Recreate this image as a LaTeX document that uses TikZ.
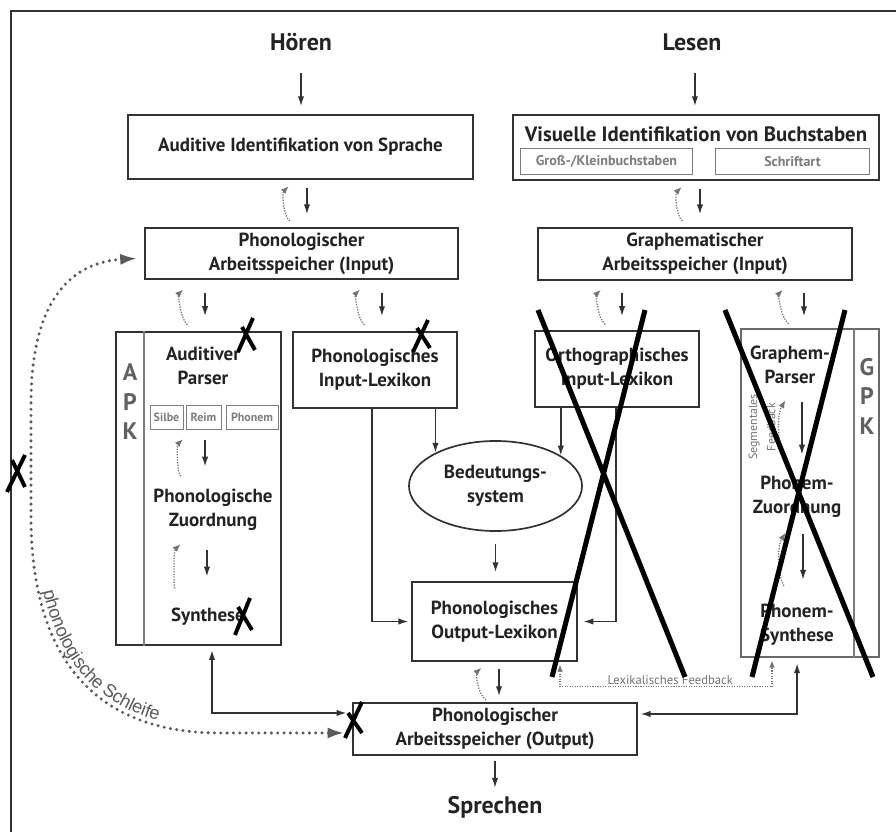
\documentclass[tikz,border=0pt]{standalone}
\usepackage{fontspec}
\setmainfont{PT Sans}
\newfontfamily\loopfont{Liberation Sans}
\usepackage{tikz}
\usetikzlibrary{shapes,arrows,arrows.meta,positioning,calc,decorations.text}

\definecolor{linegray}{RGB}{50,50,50}
\definecolor{textgray}{RGB}{35,35,35}
\definecolor{fbgray}{RGB}{115,115,115}
\definecolor{subgray}{RGB}{125,125,125}
\definecolor{loopgray}{RGB}{90,90,90}
\definecolor{gpkgray}{RGB}{105,105,105}
\tikzstyle{box} = [draw=linegray, line width=1.2pt, inner sep=0pt, text=textgray, align=center, font=\bfseries\fontsize{13.5}{17}\selectfont]
\tikzstyle{subbox} = [draw=subgray, line width=0.7pt, inner sep=0pt, text=subgray, font=\bfseries\fontsize{8.5}{10}\selectfont]
\tikzstyle{plain} = [inner sep=0pt, text=textgray, align=center, font=\bfseries\fontsize{13.5}{17}\selectfont]
\tikzstyle{heading} = [inner sep=0pt, text=textgray, font=\bfseries\fontsize{17}{20}\selectfont]
\tikzstyle{side} = [inner sep=0pt, text=black!62, align=center, font=\bfseries\fontsize{17}{21}\selectfont]
\tikzstyle{note} = [inner sep=1pt, text=fbgray, align=center, font=\fontsize{9}{12}\selectfont]
\tikzstyle{arrow} = [-{Latex[length=7pt,width=4.5pt]}, line width=1pt, linegray]
\tikzstyle{twoway} = [{Latex[length=7pt,width=4.5pt]}-{Latex[length=7pt,width=4.5pt]}, line width=1pt, linegray]
\tikzstyle{fb} = [-{Latex[length=5.5pt,width=4.5pt]}, fbgray, densely dotted, line width=0.9pt]
\tikzstyle{fbtwo} = [{Latex[length=5pt,width=4pt]}-{Latex[length=5pt,width=4pt]}, fbgray, densely dotted, line width=0.8pt]
\tikzstyle{loopline} = [{Latex[length=12pt,width=8pt]}-{Latex[length=12pt,width=8pt]}, loopgray, line width=2.4pt, line cap=round, dash pattern=on 0pt off 4.5pt]
\tikzstyle{divider} = [subgray, line width=0.8pt]
\tikzstyle{bigx} = [line width=3.6pt]
\tikzstyle{smallx} = [line width=2.8pt]

\begin{document}
\begin{tikzpicture}[x=0.025cm, y=-0.025cm]

\useasboundingbox (0,0) rectangle (896,832);
\fill[white] (0,0) rectangle (896,832);
\draw[line width=1.4pt, linegray] (11,840) -- (11,11) -- (900,11);

% Headings
\node[heading] (hoeren) at (301,42) {Hören};
\node[heading] (lesen) at (692,42) {Lesen};
\node[heading] (sprechen) at (495,807) {Sprechen};

% Boxes
\node[box, minimum width=8.625cm, minimum height=1.6cm] (ais) at (300.5,147) {Auditive Identifikation von Sprache};
\node[box, minimum width=9.15cm, minimum height=1.625cm] (vib) at (696,147.5) {};
\node[plain, font=\bfseries\fontsize{14.8}{17}\selectfont] (vibtitle) at (696,134) {Visuelle Identifikation von Buchstaben};
\node[subbox, font=\bfseries\fontsize{10}{12}\selectfont, minimum width=4.275cm, minimum height=0.625cm] (gross) at (606.5,161.5) {Groß-/Kleinbuchstaben};
\node[subbox, font=\bfseries\fontsize{10}{12}\selectfont, minimum width=3.825cm, minimum height=0.625cm] (schrift) at (792.5,161.5) {Schriftart};
\node[box, minimum width=7.825cm, minimum height=1.275cm] (pas) at (301.5,253.5) {Phonologischer\\Arbeitsspeicher (Input)};
\node[box, minimum width=7.85cm, minimum height=1.3cm] (gas) at (695,254) {Graphematischer\\Arbeitsspeicher (Input)};
\node[box, minimum width=4.125cm, minimum height=7.825cm] (apk) at (198.5,488.5) {};
\node[box, minimum width=4.1cm, minimum height=1.9cm] (pil) at (375,370) {Phonologisches\\Input-Lexikon};
\node[box, minimum width=4.1cm, minimum height=1.9cm] (oil) at (617,369) {Orthographisches\\Input-Lexikon};
\node[box, ellipse, minimum width=4.325cm, minimum height=2.25cm] (bed) at (495.5,486) {Bedeutungs-\\system};
\node[box, minimum width=4.125cm, minimum height=1.975cm] (pol) at (494.5,621.5) {Phonologisches\\Output-Lexikon};
\node[box, minimum width=7.1cm, minimum height=1.3cm] (pao) at (495,729) {Phonologischer\\Arbeitsspeicher (Output)};
\node[box, draw=gpkgray, line width=1pt, minimum width=3.45cm, minimum height=8.2cm] (gpk) at (810,493) {};

% APK
\draw[divider] ([xshift=-38.8pt]apk.north) -- ([xshift=-38.8pt]apk.south);
\node[side] (apkletters) at (130,402) {A\\P\\K};
\node[plain] (apar) at (203,366) {Auditiver\\Parser};
\node[subbox, minimum width=0.825cm, minimum height=0.6cm] (silbe) at (166.5,417) {Silbe};
\node[subbox, minimum width=0.875cm, minimum height=0.6cm] (reim) at (203.5,417) {Reim};
\node[subbox, minimum width=1.3cm, minimum height=0.6cm] (phonem) at (252,417) {Phonem};
\node[plain] (pzuo) at (213,509.5) {Phonologische\\Zuordnung};
\node[plain] (synth) at (208,616.5) {Synthese};

% GPK
\draw[divider] ([xshift=31.3pt]gpk.north) -- ([xshift=31.3pt]gpk.south);
\node[side] (gpkletters) at (867,396) {G\\P\\K};
\node[plain] (gpar) at (790,365) {Graphem-\\Parser};
\node[plain] (gzuo) at (797,496.5) {Phonem-\\Zuordnung};
\node[plain] (gsyn) at (797,624.5) {Phonem-\\Synthese};
\node[note, rotate=90, font=\fontsize{8.5}{13}\selectfont] (segfb) at (762,427) {Segmentales\\Feedback};

% Input arrows
\draw[arrow, shorten <=15.6pt, shorten >=5.7pt] (hoeren.south) -- (hoeren.south |- ais.north);
\draw[arrow, shorten <=15.6pt, shorten >=5.7pt] ([xshift=2.1pt]lesen.south) -- ([xshift=2.1pt]lesen.south |- vib.north);

% Down arrows with feedback
\draw[arrow, shorten <=5.7pt, shorten >=9.2pt] ([xshift=4.6pt]ais.south) -- ([xshift=4.6pt]ais.south |- pas.north);
\draw[fb, shorten <=7.1pt, shorten >=6.4pt] ([xshift=-2.1pt]ais.south |- pas.north) to[bend left=48] ([xshift=-3.9pt]ais.south);
\draw[arrow, shorten <=5.7pt, shorten >=9.2pt] ([xshift=2.8pt]vib.south) -- ([xshift=2.8pt]vib.south |- gas.north);
\draw[fb, shorten <=7.1pt, shorten >=6.4pt] ([xshift=-4.3pt]vib.south |- gas.north) to[bend left=48] ([xshift=-5.7pt]vib.south);
\draw[arrow, shorten <=9.2pt, shorten >=10.7pt] ([xshift=-68.6pt]pas.south) -- ([xshift=-68.6pt]pas.south |- apk.north);
\draw[fb, shorten <=7.1pt, shorten >=10pt] ([xshift=-75.7pt]pas.south |- apk.north) to[bend left=48] ([xshift=-77.1pt]pas.south);
\draw[arrow, shorten <=9.2pt, shorten >=10.7pt] ([xshift=57.2pt]pas.south) -- ([xshift=57.2pt]pas.south |- pil.north);
\draw[fb, shorten <=7.1pt, shorten >=10pt] ([xshift=50.1pt]pas.south |- pil.north) to[bend left=48] ([xshift=48.7pt]pas.south);
\draw[arrow, shorten <=8.5pt, shorten >=10pt] ([xshift=-51.9pt]gas.south) -- ([xshift=-51.9pt]gas.south |- oil.north);
\draw[fb, shorten <=6.4pt, shorten >=9.2pt] ([xshift=-59pt]gas.south |- oil.north) to[bend left=48] ([xshift=-60.4pt]gas.south);
\draw[arrow, shorten <=8.5pt, shorten >=8.5pt] ([xshift=77.5pt]gas.south) -- ([xshift=77.5pt]gas.south |- gpk.north);
\draw[fb, shorten <=5pt, shorten >=9.2pt] ([xshift=70.4pt]gas.south |- gpk.north) to[bend left=48] ([xshift=69pt]gas.south);
\draw[arrow, shorten <=7.8pt, shorten >=15.6pt] ([xshift=1.1pt]reim.south) -- ([xshift=1.1pt]reim.south |- pzuo.north);
\draw[fb, shorten <=13.5pt, shorten >=10pt] ([xshift=-6pt]reim.south |- pzuo.north) to[bend left=48] ([xshift=-7.5pt]reim.south);
\draw[arrow, shorten <=14.2pt, shorten >=22pt] ([xshift=-4.3pt]pzuo.south) -- ([xshift=-4.3pt]pzuo.south |- synth.north);
\draw[fb, shorten <=21pt, shorten >=14.2pt] ([xshift=-11.4pt]pzuo.south |- synth.north) to[bend left=48] ([xshift=-12.8pt]pzuo.south);
\draw[arrow, shorten <=12.8pt, shorten >=14.9pt] ([xshift=8.5pt]gpar.south) -- ([xshift=8.5pt]gpar.south |- gzuo.north);
\draw[fb, shorten <=16.4pt, shorten >=13.5pt] ([xshift=5pt]gpar.south |- gzuo.north) to[bend left=32] ([xshift=3.6pt]gpar.south);
\draw[arrow, shorten <=11.4pt, shorten >=17pt] ([xshift=4.3pt]gzuo.south) -- ([xshift=4.3pt]gzuo.south |- gsyn.north);
\draw[fb, shorten <=14.9pt, shorten >=12.8pt] ([xshift=-1.4pt]gzuo.south |- gsyn.north) to[bend left=32] ([xshift=-1.4pt]gzuo.south);
\draw[arrow, shorten <=5pt, shorten >=4.3pt] ([xshift=3.2pt]pol.south) -- ([xshift=3.2pt]pol.south |- pao.north);
\draw[fb, shorten <=2.1pt, shorten >=6.4pt] ([xshift=-4.6pt]pol.south |- pao.north) to[bend left=48] ([xshift=-4.6pt]pol.south);

% Lexicon routes
\draw[arrow] (pil.south -| bed.151) -- (bed.151);
\draw[arrow] (oil.south -| bed.25) -- (bed.25);
\draw[arrow, shorten <=8.5pt, shorten >=6.4pt] (bed.south) -- (bed.south |- pol.north);
\draw[arrow, shorten >=2pt] ([xshift=-2.1pt]pil.south) |- (pol.west);
\draw[arrow, shorten >=4pt] ([xshift=-0.7pt]oil.south) |- (pol.east);

% Output side
\draw[twoway, shorten <=3pt, shorten >=4pt] ([xshift=9.6pt]apk.south) |- ([yshift=11.4pt]pao.west);
\draw[twoway, shorten <=4pt, shorten >=2pt] ([xshift=-9.2pt]gpk.south) |- ([yshift=10.7pt]pao.east);
\draw[fbtwo, shorten <=2pt, shorten >=2pt] ([xshift=46.6pt]pol.south) -- ++(0,25) -| node[note, pos=0.26, above] (lexfb) {Lexikalisches Feedback} ([xshift=-27pt]gpk.south);
\draw[arrow, shorten <=3.6pt, shorten >=5.7pt] (pao.south) -- (pao.south |- sprechen.north);

% Phonological loop
\draw[loopline, shorten <=5pt, shorten >=5.5pt] ([yshift=-3.2pt]pas.west) .. controls (75,262) and (32,295) .. (31,400) -- (31,520) .. controls (32,640) and (80,733) .. (220,733) -- ([yshift=-2.8pt]pao.west);
\path[decorate, decoration={text along path, raise=3.5pt, text align={left indent=284pt}, text={|\loopfont\fontsize{13}{15}\selectfont\color{loopgray}|phonologische Schleife}}] ([yshift=-3.2pt]pas.west) .. controls (75,262) and (32,295) .. (31,400) -- (31,520) .. controls (32,640) and (80,733) .. (220,733) -- ([yshift=-2.8pt]pao.west);

% Crossings
\draw[bigx] (538,310) -- (685,677);
\draw[bigx] (645,310) -- (552,677);
\draw[bigx] (725,310) -- (873,677);
\draw[bigx] (845,310) -- (752,677);
\draw[smallx] (238,352) -- (253,318);
\draw[smallx] (242,327) -- (255,350);
\draw[smallx] (413,352) -- (428,320);
\draw[smallx] (417,328) -- (430,348);
\draw[smallx] (235,635) -- (250,598);
\draw[smallx] (238,607) -- (252,630);
\draw[smallx] (345,738) -- (362,702);
\draw[smallx] (348,713) -- (362,733);
\draw[smallx] (7,492) -- (25,455);
\draw[smallx] (12,460) -- (25,487);

\end{tikzpicture}
\end{document}
